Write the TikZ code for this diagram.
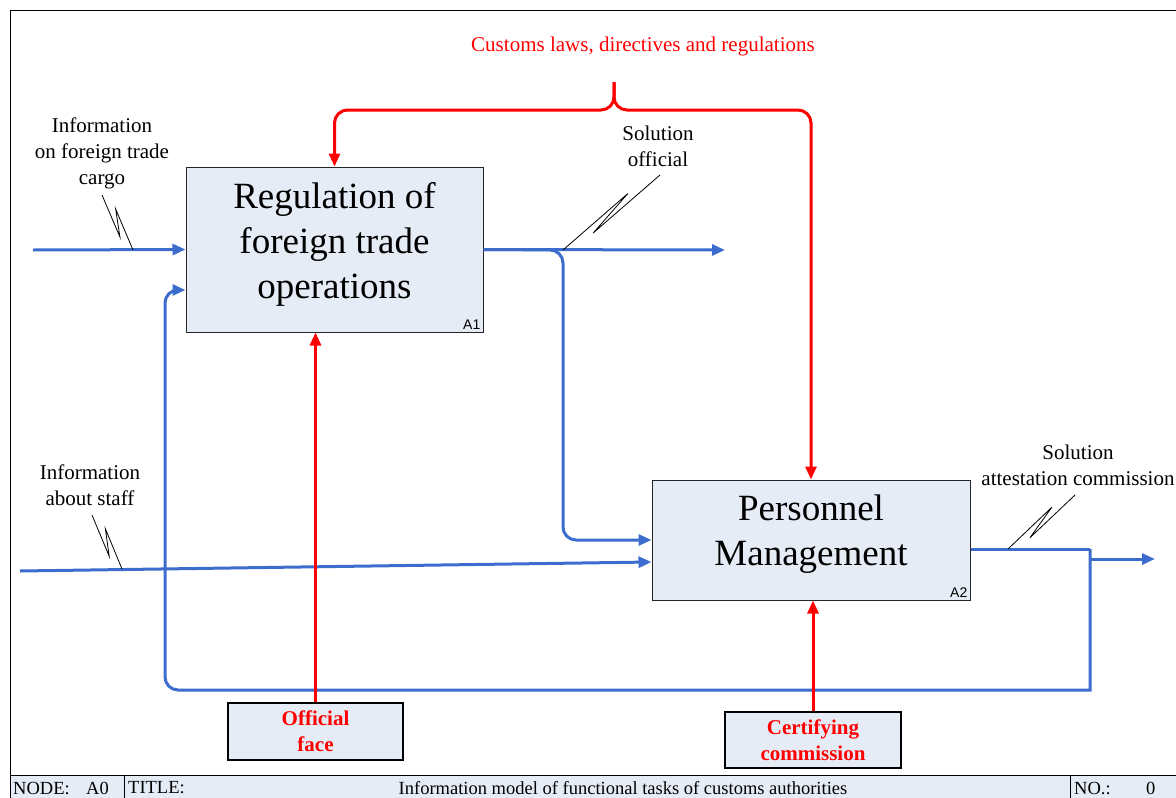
\documentclass[tikz,border=0pt]{standalone}
\usepackage{fontspec}
\setmainfont{Liberation Serif}
\newfontfamily\tagfont{Liberation Sans}
\usepackage{tikz}
\usetikzlibrary{arrows.meta,calc}

\definecolor{flowblue}{RGB}{60,108,204}
\definecolor{boxfill}{RGB}{230,236,246}
\definecolor{ctrlred}{RGB}{255,0,0}

\tikzset{
    func/.style={draw=black!85, fill=boxfill, line width=1pt, align=center, inner sep=0pt, text depth=19pt, font=\fontsize{37}{45}\selectfont},
    res/.style={draw=black, fill=boxfill, line width=1.2pt, align=center, inner sep=0pt, text=ctrlred, font=\bfseries\fontsize{21}{26}\selectfont},
    flow/.style={draw=flowblue, line width=3pt, -{Triangle[length=13pt,width=11pt]}},
    ctrl/.style={draw=ctrlred, line width=3pt, -{Triangle[length=13pt,width=11pt]}},
    lbl/.style={align=center, inner sep=0pt, font=\fontsize{21}{26}\selectfont},
    zig/.style={draw=black, line width=0.8pt},
    tag/.style={anchor=south east, inner sep=3pt, font=\tagfont\fontsize{14}{16}\selectfont},
    bar/.style={anchor=west, inner sep=0pt, font=\fontsize{18.5}{20}\selectfont}
}

\newcommand{\zigzag}[3]{%
    \draw [zig] (#1) -- ($(#1)!0.72!(#2)!5pt!#3:(#2)$) -- ($(#1)!0.3!(#2)!-5pt!#3:(#2)$) -- (#2);}

\begin{document}
\begin{tikzpicture}[x=1pt,y=-1pt]
    \useasboundingbox (0,0) rectangle (1176,798);

    % frame and title bar
    \draw [line width=1pt] (10,775) -- (10,10) -- (1190,10);
    \draw [line width=1pt, fill=boxfill] (10,775) rectangle (1190,805);
    \draw [line width=1pt] (124,775) -- (124,805);
    \draw [line width=1pt] (1070,775) -- (1070,805);
    \node [bar] (nodelbl) at (13,788) {NODE:};
    \node [bar] (nodeval) at (86,788) {A0};
    \node [bar] (titlelbl) at (128,788) {TITLE:};
    \node [bar, anchor=center] (titleval) at (623,788) {Information model of functional tasks of customs authorities};
    \node [bar] (nolbl) at (1074,788) {NO.:};
    \node [bar] (noval) at (1146,788) {0};

    % function boxes
    \node [func, minimum width=297pt, minimum height=165pt] (A1) at (334.5,249.5) {Regulation of\\foreign trade\\operations};
    \node [tag] at (A1.south east) {A1};
    \node [func, minimum width=318pt, minimum height=120pt] (A2) at (811,540) {Personnel\\Management};
    \node [tag] at (A2.south east) {A2};

    % mechanisms
    \node [res, minimum width=175pt, minimum height=57pt] (face) at (315.5,731.5) {Official\\face};
    \node [res, minimum width=176pt, minimum height=56pt] (cert) at (813,740) {Certifying\\commission};

    % labels
    \node [lbl, text=ctrlred] (laws) at (643,46) {Customs laws, directives and regulations};
    \node [lbl] (cargo) at (102,153) {Information\\on foreign trade\\cargo};
    \node [lbl] (staff) at (90,485) {Information\\about staff};
    \node [lbl] (sol1) at (658,146) {Solution\\official};
    \node [lbl] (sol2) at (1078,465) {Solution\\attestation commission};

    \coordinate (cargoin) at (33,250);
    \coordinate (staffin) at (20,571);
    \coordinate (out1) at (725,250);
    \coordinate (split1) at (563,250);
    \coordinate (fb) at (1090,549);
    \coordinate (out2) at (1155,559);
    \coordinate (lawtop) at (614,82);

    % inputs and outputs
    \draw [flow] (cargoin) -- (A1.west);
    \draw [flow] (A1.east) -- (out1);
    \draw [flow, rounded corners=13pt] (A1.east) -- (split1) -- (split1 |- A2.west) -- (A2.west);
    \draw [flow] (staffin) -- ([yshift=-22pt]A2.west);
    \draw [flow, -] ([yshift=-9pt]A2.east) -- (fb);
    \draw [flow] (fb |- out2) -- (out2);
    \draw [flow] (fb) -- (1090,690) -- (600,690) [rounded corners=13pt] -- (165,690) -- (165,290) -- ([yshift=-40.5pt]A1.west);

    % controls
    \draw [ctrl, rounded corners=13pt] (lawtop) -- (614,110) -- (A1.north |- 0,110) -- (A1.north);
    \draw [ctrl, rounded corners=13pt] (lawtop) -- (614,110) -- (A2.north |- 0,110) -- (A2.north);
    \draw [ctrl] (face.north) -- (face.north |- A1.south);
    \draw [ctrl] (cert.north) -- (cert.north |- A2.south);

    % squiggles
    \coordinate (z1a) at (102,195);
    \coordinate (z1b) at (133,250);
    \coordinate (z2a) at (92,515);
    \coordinate (z2b) at (122,569);
    \coordinate (z3a) at (660,175);
    \coordinate (z3b) at (563,250);
    \coordinate (z4a) at (1075,495);
    \coordinate (z4b) at (1008,549);
    \zigzag{z1a}{z1b}{-90}
    \zigzag{z2a}{z2b}{-90}
    \zigzag{z3a}{z3b}{90}
    \zigzag{z4a}{z4b}{90}
\end{tikzpicture}
\end{document}
